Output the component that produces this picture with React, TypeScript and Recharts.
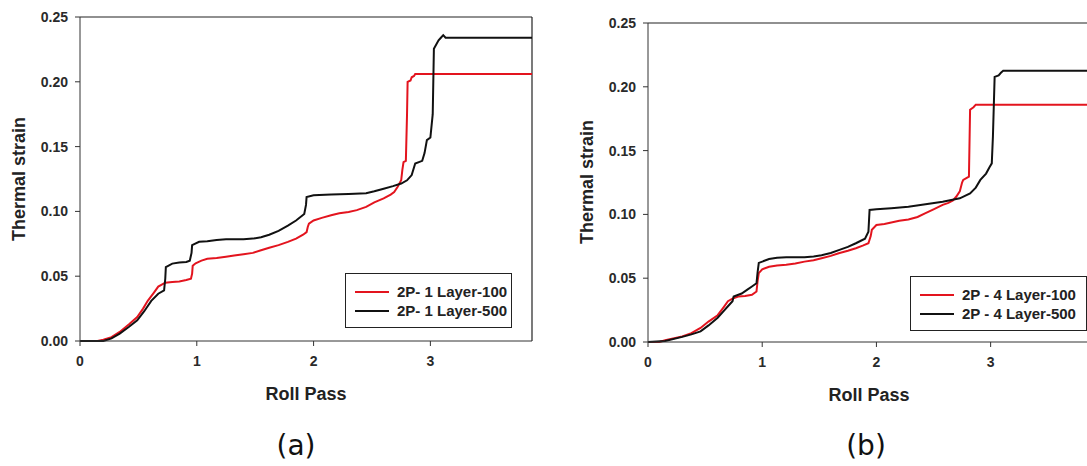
import { LineChart, Line, XAxis, YAxis, ReferenceLine } from "recharts";

// Roll pass (x) vs thermal strain (y)
const red1 = [
  { x: 0, y: 0 }, { x: 0.15, y: 0 }, { x: 0.2, y: 0.001 }, { x: 0.27, y: 0.003 },
  { x: 0.34, y: 0.007 }, { x: 0.42, y: 0.013 }, { x: 0.49, y: 0.0185 }, { x: 0.54, y: 0.025 },
  { x: 0.58, y: 0.031 }, { x: 0.63, y: 0.037 }, { x: 0.67, y: 0.042 }, { x: 0.73, y: 0.045 },
  { x: 0.79, y: 0.0455 }, { x: 0.85, y: 0.046 }, { x: 0.91, y: 0.047 }, { x: 0.95, y: 0.048 },
  { x: 0.96, y: 0.052 }, { x: 0.965, y: 0.058 }, { x: 0.99, y: 0.06 }, { x: 1.04, y: 0.062 },
  { x: 1.09, y: 0.0635 }, { x: 1.17, y: 0.064 }, { x: 1.25, y: 0.065 }, { x: 1.32, y: 0.066 },
  { x: 1.4, y: 0.067 }, { x: 1.48, y: 0.068 }, { x: 1.55, y: 0.07 }, { x: 1.62, y: 0.072 },
  { x: 1.7, y: 0.074 }, { x: 1.78, y: 0.0765 }, { x: 1.85, y: 0.079 }, { x: 1.91, y: 0.082 },
  { x: 1.94, y: 0.084 }, { x: 1.95, y: 0.088 }, { x: 1.96, y: 0.0905 }, { x: 2.0, y: 0.093 },
  { x: 2.07, y: 0.095 }, { x: 2.15, y: 0.097 }, { x: 2.22, y: 0.0985 }, { x: 2.3, y: 0.0995 },
  { x: 2.37, y: 0.101 }, { x: 2.45, y: 0.1035 }, { x: 2.52, y: 0.107 }, { x: 2.6, y: 0.11 },
  { x: 2.66, y: 0.113 }, { x: 2.69, y: 0.115 }, { x: 2.72, y: 0.119 }, { x: 2.75, y: 0.124 },
  { x: 2.76, y: 0.132 }, { x: 2.77, y: 0.138 }, { x: 2.79, y: 0.139 }, { x: 2.8, y: 0.175 },
  { x: 2.805, y: 0.2 }, { x: 2.83, y: 0.201 }, { x: 2.84, y: 0.2035 }, { x: 2.86, y: 0.2045 },
  { x: 2.87, y: 0.206 }, { x: 3.87, y: 0.206 },
];

const black1 = [
  { x: 0, y: 0 }, { x: 0.2, y: 0 }, { x: 0.27, y: 0.002 }, { x: 0.34, y: 0.0057 },
  { x: 0.42, y: 0.011 }, { x: 0.49, y: 0.016 }, { x: 0.55, y: 0.023 }, { x: 0.61, y: 0.031 },
  { x: 0.67, y: 0.0365 }, { x: 0.72, y: 0.039 }, { x: 0.73, y: 0.048 }, { x: 0.735, y: 0.057 },
  { x: 0.79, y: 0.0597 }, { x: 0.85, y: 0.0605 }, { x: 0.91, y: 0.061 }, { x: 0.94, y: 0.062 },
  { x: 0.955, y: 0.068 }, { x: 0.96, y: 0.074 }, { x: 1.02, y: 0.0765 }, { x: 1.09, y: 0.077 },
  { x: 1.17, y: 0.078 }, { x: 1.25, y: 0.0785 }, { x: 1.4, y: 0.0785 }, { x: 1.48, y: 0.079 },
  { x: 1.55, y: 0.08 }, { x: 1.62, y: 0.082 }, { x: 1.7, y: 0.085 }, { x: 1.78, y: 0.089 },
  { x: 1.85, y: 0.093 }, { x: 1.92, y: 0.098 }, { x: 1.935, y: 0.105 }, { x: 1.94, y: 0.111 },
  { x: 2.0, y: 0.1125 }, { x: 2.15, y: 0.113 }, { x: 2.3, y: 0.1135 }, { x: 2.45, y: 0.114 },
  { x: 2.52, y: 0.1155 }, { x: 2.6, y: 0.1175 }, { x: 2.68, y: 0.1195 }, { x: 2.75, y: 0.1215 },
  { x: 2.8, y: 0.124 }, { x: 2.84, y: 0.128 }, { x: 2.87, y: 0.137 }, { x: 2.93, y: 0.139 },
  { x: 2.95, y: 0.145 }, { x: 2.97, y: 0.155 }, { x: 3.0, y: 0.157 }, { x: 3.02, y: 0.175 },
  { x: 3.03, y: 0.2255 }, { x: 3.07, y: 0.232 }, { x: 3.09, y: 0.234 }, { x: 3.11, y: 0.236 },
  { x: 3.13, y: 0.234 }, { x: 3.87, y: 0.234 },
];

const red4 = [
  { x: 0, y: 0 }, { x: 0.1, y: 0 }, { x: 0.15, y: 0.0013 }, { x: 0.3, y: 0.0044 },
  { x: 0.38, y: 0.007 }, { x: 0.46, y: 0.011 }, { x: 0.53, y: 0.016 }, { x: 0.61, y: 0.021 },
  { x: 0.66, y: 0.027 }, { x: 0.7, y: 0.032 }, { x: 0.74, y: 0.034 }, { x: 0.79, y: 0.0357 },
  { x: 0.85, y: 0.036 }, { x: 0.91, y: 0.037 }, { x: 0.95, y: 0.0396 }, { x: 0.96, y: 0.048 },
  { x: 0.97, y: 0.054 }, { x: 1.0, y: 0.057 }, { x: 1.06, y: 0.059 }, { x: 1.13, y: 0.06 },
  { x: 1.21, y: 0.0605 }, { x: 1.29, y: 0.0615 }, { x: 1.37, y: 0.063 }, { x: 1.45, y: 0.064 },
  { x: 1.52, y: 0.0657 }, { x: 1.6, y: 0.0675 }, { x: 1.67, y: 0.0696 }, { x: 1.75, y: 0.0715 },
  { x: 1.82, y: 0.0735 }, { x: 1.88, y: 0.0755 }, { x: 1.93, y: 0.0774 }, { x: 1.95, y: 0.083 },
  { x: 1.96, y: 0.088 }, { x: 2.0, y: 0.0917 }, { x: 2.07, y: 0.0925 }, { x: 2.13, y: 0.0936 },
  { x: 2.2, y: 0.095 }, { x: 2.28, y: 0.096 }, { x: 2.36, y: 0.098 }, { x: 2.43, y: 0.101 },
  { x: 2.5, y: 0.104 }, { x: 2.58, y: 0.1075 }, { x: 2.63, y: 0.109 }, { x: 2.67, y: 0.111 },
  { x: 2.7, y: 0.114 }, { x: 2.73, y: 0.118 }, { x: 2.75, y: 0.125 }, { x: 2.76, y: 0.127 },
  { x: 2.81, y: 0.1296 }, { x: 2.82, y: 0.182 }, { x: 2.85, y: 0.184 }, { x: 2.87, y: 0.186 },
  { x: 3.87, y: 0.186 },
];

const black4 = [
  { x: 0, y: 0 }, { x: 0.15, y: 0.0008 }, { x: 0.3, y: 0.004 }, { x: 0.38, y: 0.006 },
  { x: 0.46, y: 0.0083 }, { x: 0.53, y: 0.013 }, { x: 0.61, y: 0.019 }, { x: 0.66, y: 0.024 },
  { x: 0.7, y: 0.028 }, { x: 0.74, y: 0.032 }, { x: 0.75, y: 0.0357 }, { x: 0.82, y: 0.038 },
  { x: 0.87, y: 0.041 }, { x: 0.91, y: 0.0435 }, { x: 0.95, y: 0.046 }, { x: 0.96, y: 0.055 },
  { x: 0.97, y: 0.062 }, { x: 1.06, y: 0.065 }, { x: 1.13, y: 0.066 }, { x: 1.21, y: 0.0665 },
  { x: 1.37, y: 0.0665 }, { x: 1.45, y: 0.067 }, { x: 1.52, y: 0.068 }, { x: 1.6, y: 0.0698 },
  { x: 1.67, y: 0.072 }, { x: 1.75, y: 0.0745 }, { x: 1.82, y: 0.0774 }, { x: 1.9, y: 0.081 },
  { x: 1.93, y: 0.0865 }, { x: 1.935, y: 0.095 }, { x: 1.94, y: 0.1035 }, { x: 2.0, y: 0.104 },
  { x: 2.13, y: 0.1048 }, { x: 2.28, y: 0.106 }, { x: 2.43, y: 0.108 }, { x: 2.58, y: 0.11 },
  { x: 2.73, y: 0.1126 }, { x: 2.82, y: 0.1165 }, { x: 2.87, y: 0.121 }, { x: 2.91, y: 0.127 },
  { x: 2.96, y: 0.132 }, { x: 2.99, y: 0.137 }, { x: 3.01, y: 0.14 }, { x: 3.02, y: 0.161 },
  { x: 3.035, y: 0.2078 }, { x: 3.07, y: 0.209 }, { x: 3.09, y: 0.211 }, { x: 3.11, y: 0.2125 },
  { x: 3.87, y: 0.2125 },
];

const xTicks = [0, 1, 2, 3];
const yTicks = [0, 0.05, 0.1, 0.15, 0.2, 0.25];
const legendA = ["2P- 1 Layer-100", "2P- 1 Layer-500"];
const legendB = ["2P - 4 Layer-100", "2P - 4 Layer-500"];
const panelLabels = ["(a)", "(b)"];

const RED = "#e3141e";
const BLACK = "#111";
const FONT = "'Liberation Sans', Arial, sans-serif";
const tickStyle = { fill: "#2a2a2a", fontSize: 14, fontWeight: 700, fontFamily: FONT };

function LegendBox({ names, left, top, width }: { names: string[]; left: number; top: number; width: number }) {
  return (
    <div
      style={{
        position: "absolute",
        left,
        top,
        width,
        height: 55,
        border: "1px solid #222",
        background: "#fff",
        boxSizing: "border-box",
        padding: "8px 0 0 9px",
        fontFamily: FONT,
        fontWeight: 700,
        fontSize: 15,
        color: "#222",
      }}
    >
      {names.map((n, i) => (
        <div key={n} style={{ display: "flex", alignItems: "center", height: 19 }}>
          <span
            style={{
              display: "inline-block",
              width: 34,
              height: 2,
              background: i === 0 ? RED : BLACK,
              marginRight: 8,
            }}
          />
          {n}
        </div>
      ))}
    </div>
  );
}

interface PanelProps {
  red: { x: number; y: number }[];
  black: { x: number; y: number }[];
  names: string[];
  top: number;
  bottom: number;
  plotLeft: number;
  plotRight: number;
}

function Panel(p: PanelProps) {
  return (
    <LineChart
      width={545}
      height={380}
      margin={{ top: p.top, right: 545 - p.plotRight, left: 0, bottom: 380 - p.bottom - 30 }}
    >
      <XAxis
        type="number"
        dataKey="x"
        domain={[0, 3.87]}
        ticks={xTicks}
        allowDataOverflow
        height={30}
        tick={tickStyle}
        tickSize={5}
        tickMargin={10}
        stroke="#333"
      />
      <YAxis
        type="number"
        dataKey="y"
        domain={[0, 0.25]}
        ticks={yTicks}
        width={p.plotLeft}
        tick={tickStyle}
        tickSize={5}
        tickMargin={7}
        tickFormatter={(v: number) => v.toFixed(2)}
        stroke="#333"
      />
      <ReferenceLine y={0.25} stroke="#222" strokeWidth={1.2} />
      <ReferenceLine x={3.87} stroke="#222" strokeWidth={1.2} />
      <Line data={p.red} dataKey="y" name={p.names[0]} stroke={RED} strokeWidth={2} dot={false} isAnimationActive={false} />
      <Line data={p.black} dataKey="y" name={p.names[1]} stroke={BLACK} strokeWidth={2} dot={false} isAnimationActive={false} />
    </LineChart>
  );
}

const textBold = { position: "absolute" as const, fontFamily: FONT, fontWeight: 700, color: "#222", whiteSpace: "nowrap" as const };
const panelText = { position: "absolute" as const, fontFamily: "'DejaVu Sans', sans-serif", fontSize: 28, color: "#111" };

export default function App() {
  return (
    <div style={{ position: "absolute", left: 0, top: 0, width: 1087, height: 466, overflow: "hidden", background: "#fff" }}>
      <div style={{ position: "absolute", left: 0, top: 0 }}>
        <Panel red={red1} black={black1} names={legendA} top={17} bottom={341} plotLeft={80} plotRight={532} />
      </div>
      <div style={{ position: "absolute", left: 545, top: 0 }}>
        <Panel red={red4} black={black4} names={legendB} top={23} bottom={342} plotLeft={103} plotRight={545} />
      </div>
      <LegendBox names={legendA} left={345} top={273} width={167} />
      <LegendBox names={legendB} left={910} top={276} width={177} />
      <div style={{ ...textBold, fontSize: 18, left: 19, top: 179, transform: "translate(-50%, -50%) rotate(-90deg)" }}>Thermal strain</div>
      <div style={{ ...textBold, fontSize: 18, left: 587, top: 182, transform: "translate(-50%, -50%) rotate(-90deg)" }}>Thermal strain</div>
      <div style={{ ...textBold, fontSize: 18, left: 306, top: 394, transform: "translate(-50%, -50%)" }}>Roll Pass</div>
      <div style={{ ...textBold, fontSize: 18, left: 869, top: 395, transform: "translate(-50%, -50%)" }}>Roll Pass</div>
      <div style={{ ...panelText, left: 296, top: 445, transform: "translate(-50%, -50%)" }}>{panelLabels[0]}</div>
      <div style={{ ...panelText, left: 866, top: 445, transform: "translate(-50%, -50%)" }}>{panelLabels[1]}</div>
    </div>
  );
}
